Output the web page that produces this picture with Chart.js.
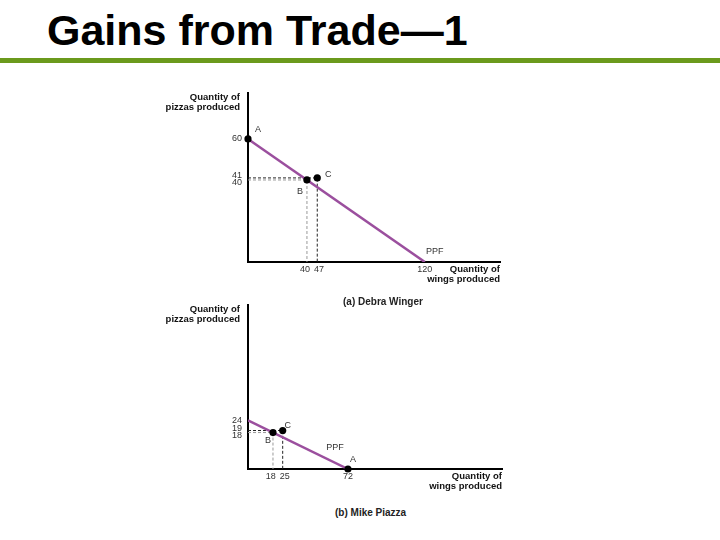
<!DOCTYPE html>
<html>
<head>
<meta charset="utf-8">
<script src="https://cdn.jsdelivr.net/npm/chart.js@4.4.1/dist/chart.umd.min.js"></script>
<style>
  html,body{margin:0;padding:0;background:#fff;}
  body{width:720px;height:540px;position:relative;overflow:hidden;font-family:"Liberation Sans",Arial,sans-serif;}
  #title{position:absolute;left:47px;top:5px;font-size:43px;font-weight:bold;color:#000;line-height:50px;white-space:nowrap;}
  #rule{position:absolute;left:0;top:58px;width:720px;height:5px;background:#6b9a1c;}
  canvas{position:absolute;}
  #cTop{left:150px;top:80px;}
  #cBot{left:150px;top:298px;}
  .cap{position:absolute;font-size:10px;font-weight:bold;color:#222;white-space:nowrap;}
</style>
</head>
<body>
<div id="title">Gains from Trade—1</div>
<div id="rule"></div>
<canvas id="cTop" width="370" height="215"></canvas>
<canvas id="cBot" width="370" height="200"></canvas>
<div class="cap" style="left:343px;top:296px;">(a) Debra Winger</div>
<div class="cap" style="left:335px;top:507px;">(b) Mike Piazza</div>
<script>
// (a) Debra Winger
const debraPpfWings = [0, 120];
const debraPpfPizzas = [60, 0];
const debraPointNames = ['A', 'B', 'C'];
const debraPointWings = [0, 40, 47];
const debraPointPizzas = [60, 40, 41];
const debraXTicks = [40, 47, 120];
const debraYTicks = [60, 41, 40];

// (b) Mike Piazza
const mikePpfWings = [0, 72];
const mikePpfPizzas = [24, 0];
const mikePointNames = ['A', 'B', 'C'];
const mikePointWings = [72, 18, 25];
const mikePointPizzas = [0, 18, 19];
const mikeXTicks = [18, 25, 72];
const mikeYTicks = [24, 19, 18];

const PURPLE = '#9b4f9e';
const labelFont = '9px "Liberation Sans", Arial, sans-serif';
const titleFont = 'bold 9.5px "Liberation Sans", Arial, sans-serif';

// spread labels that sit too close together along one axis
function spread(pos, gap){
  const idx = pos.map((p,i)=>i).sort((a,b)=>pos[a]-pos[b]);
  const out = pos.slice();
  for(let k=1;k<idx.length;k++){
    const a = idx[k-1], b = idx[k];
    const d = out[b]-out[a];
    if(d < gap){ const m = (gap-d)/2; out[a]-=m; out[b]+=m; }
  }
  return out;
}

const ppfText = {
  id:'ppfText',
  afterDraw(chart, args, o){
    const ctx = chart.ctx, xs = chart.scales.x, ys = chart.scales.y, a = chart.chartArea;
    ctx.save();
    ctx.fillStyle = '#333';
    ctx.font = labelFont;
    // y tick labels
    ctx.textAlign = 'right'; ctx.textBaseline = 'middle';
    const yp = spread(o.yTicks.map(v=>ys.getPixelForValue(v)), 7);
    o.yTicks.forEach((v,i)=>ctx.fillText(String(v), a.left-6, yp[i]));
    // x tick labels
    ctx.textAlign = 'center'; ctx.textBaseline = 'top';
    const xp = spread(o.xTicks.map(v=>xs.getPixelForValue(v)), 14);
    o.xTicks.forEach((v,i)=>ctx.fillText(String(v), xp[i], a.bottom+3));
    // point labels
    ctx.textBaseline = 'middle'; ctx.textAlign = 'center';
    o.names.forEach((n,i)=>{
      const off = o.offsets[n];
      ctx.fillText(n, xs.getPixelForValue(o.wings[i])+off[0], ys.getPixelForValue(o.pizzas[i])+off[1]);
    });
    ctx.fillText('PPF', xs.getPixelForValue(o.ppfWings[1])+o.ppfOff[0], ys.getPixelForValue(0)+o.ppfOff[1]);
    // axis titles
    ctx.fillStyle = '#111';
    ctx.font = titleFont;
    ctx.textAlign = 'right'; ctx.textBaseline = 'middle';
    ctx.fillText('Quantity of', a.left-8, o.yTitleY);
    ctx.fillText('pizzas produced', a.left-8, o.yTitleY+10);
    ctx.fillText('Quantity of', a.right, a.bottom+7);
    ctx.fillText('wings produced', a.right, a.bottom+17);
    ctx.restore();
  }
};

function makeChart(id, wings, pizzas, ppfW, ppfP, names, xTicks, yTicks, xMax, yMax, pad, extra){
  const pts = names.map((n,i)=>({x:wings[i], y:pizzas[i]}));
  const guide = i => [{x:0,y:pizzas[i]},{x:wings[i],y:pizzas[i]},{x:wings[i],y:0}];
  const iB = names.indexOf('B'), iC = names.indexOf('C');
  return new Chart(document.getElementById(id), {
    type:'scatter',
    data:{ datasets:[
      { data:pts, pointRadius:3.6, pointBackgroundColor:'#000', pointBorderWidth:0, showLine:false, clip:false, order:0 },
      { data:ppfW.map((w,i)=>({x:w,y:ppfP[i]})), showLine:true, borderColor:PURPLE, borderWidth:2.5, pointRadius:0, order:1 },
      { data:guide(iC), showLine:true, borderColor:'#222', borderWidth:1, borderDash:[3,2], pointRadius:0, order:2 },
      { data:guide(iB), showLine:true, borderColor:'#999', borderWidth:1, borderDash:[3,2], pointRadius:0, order:3 }
    ]},
    options:{
      responsive:false, animation:false,
      layout:{ padding:pad },
      plugins:{ legend:{display:false}, tooltip:{enabled:false},
        ppfText:Object.assign({ names, wings, pizzas, xTicks, yTicks, ppfWings:ppfW }, extra) },
      scales:{
        x:{ type:'linear', min:0, max:xMax, grid:{display:false, drawTicks:false}, ticks:{display:false},
            border:{display:true, color:'#000', width:2}, afterFit(s){ s.height = 0; } },
        y:{ type:'linear', min:0, max:yMax, grid:{display:false, drawTicks:false}, ticks:{display:false},
            border:{display:true, color:'#000', width:2}, afterFit(s){ s.width = 0; } }
      }
    },
    plugins:[ppfText]
  });
}

makeChart('cTop', debraPointWings, debraPointPizzas, debraPpfWings, debraPpfPizzas, debraPointNames,
  debraXTicks, debraYTicks, 171, 82.4, {left:98, top:13, right:20, bottom:33},
  { offsets:{A:[10,-9], B:[-7,12], C:[11,-3]}, ppfOff:[10,-10], yTitleY:17 });

makeChart('cBot', mikePointWings, mikePointPizzas, mikePpfWings, mikePpfPizzas, mikePointNames,
  mikeXTicks, mikeYTicks, 183, 81, {left:98, top:7, right:18, bottom:29},
  { offsets:{A:[5,-9], B:[-5,8], C:[5,-5]}, ppfOff:[-13,-21], yTitleY:11 });
</script>
</body>
</html>
